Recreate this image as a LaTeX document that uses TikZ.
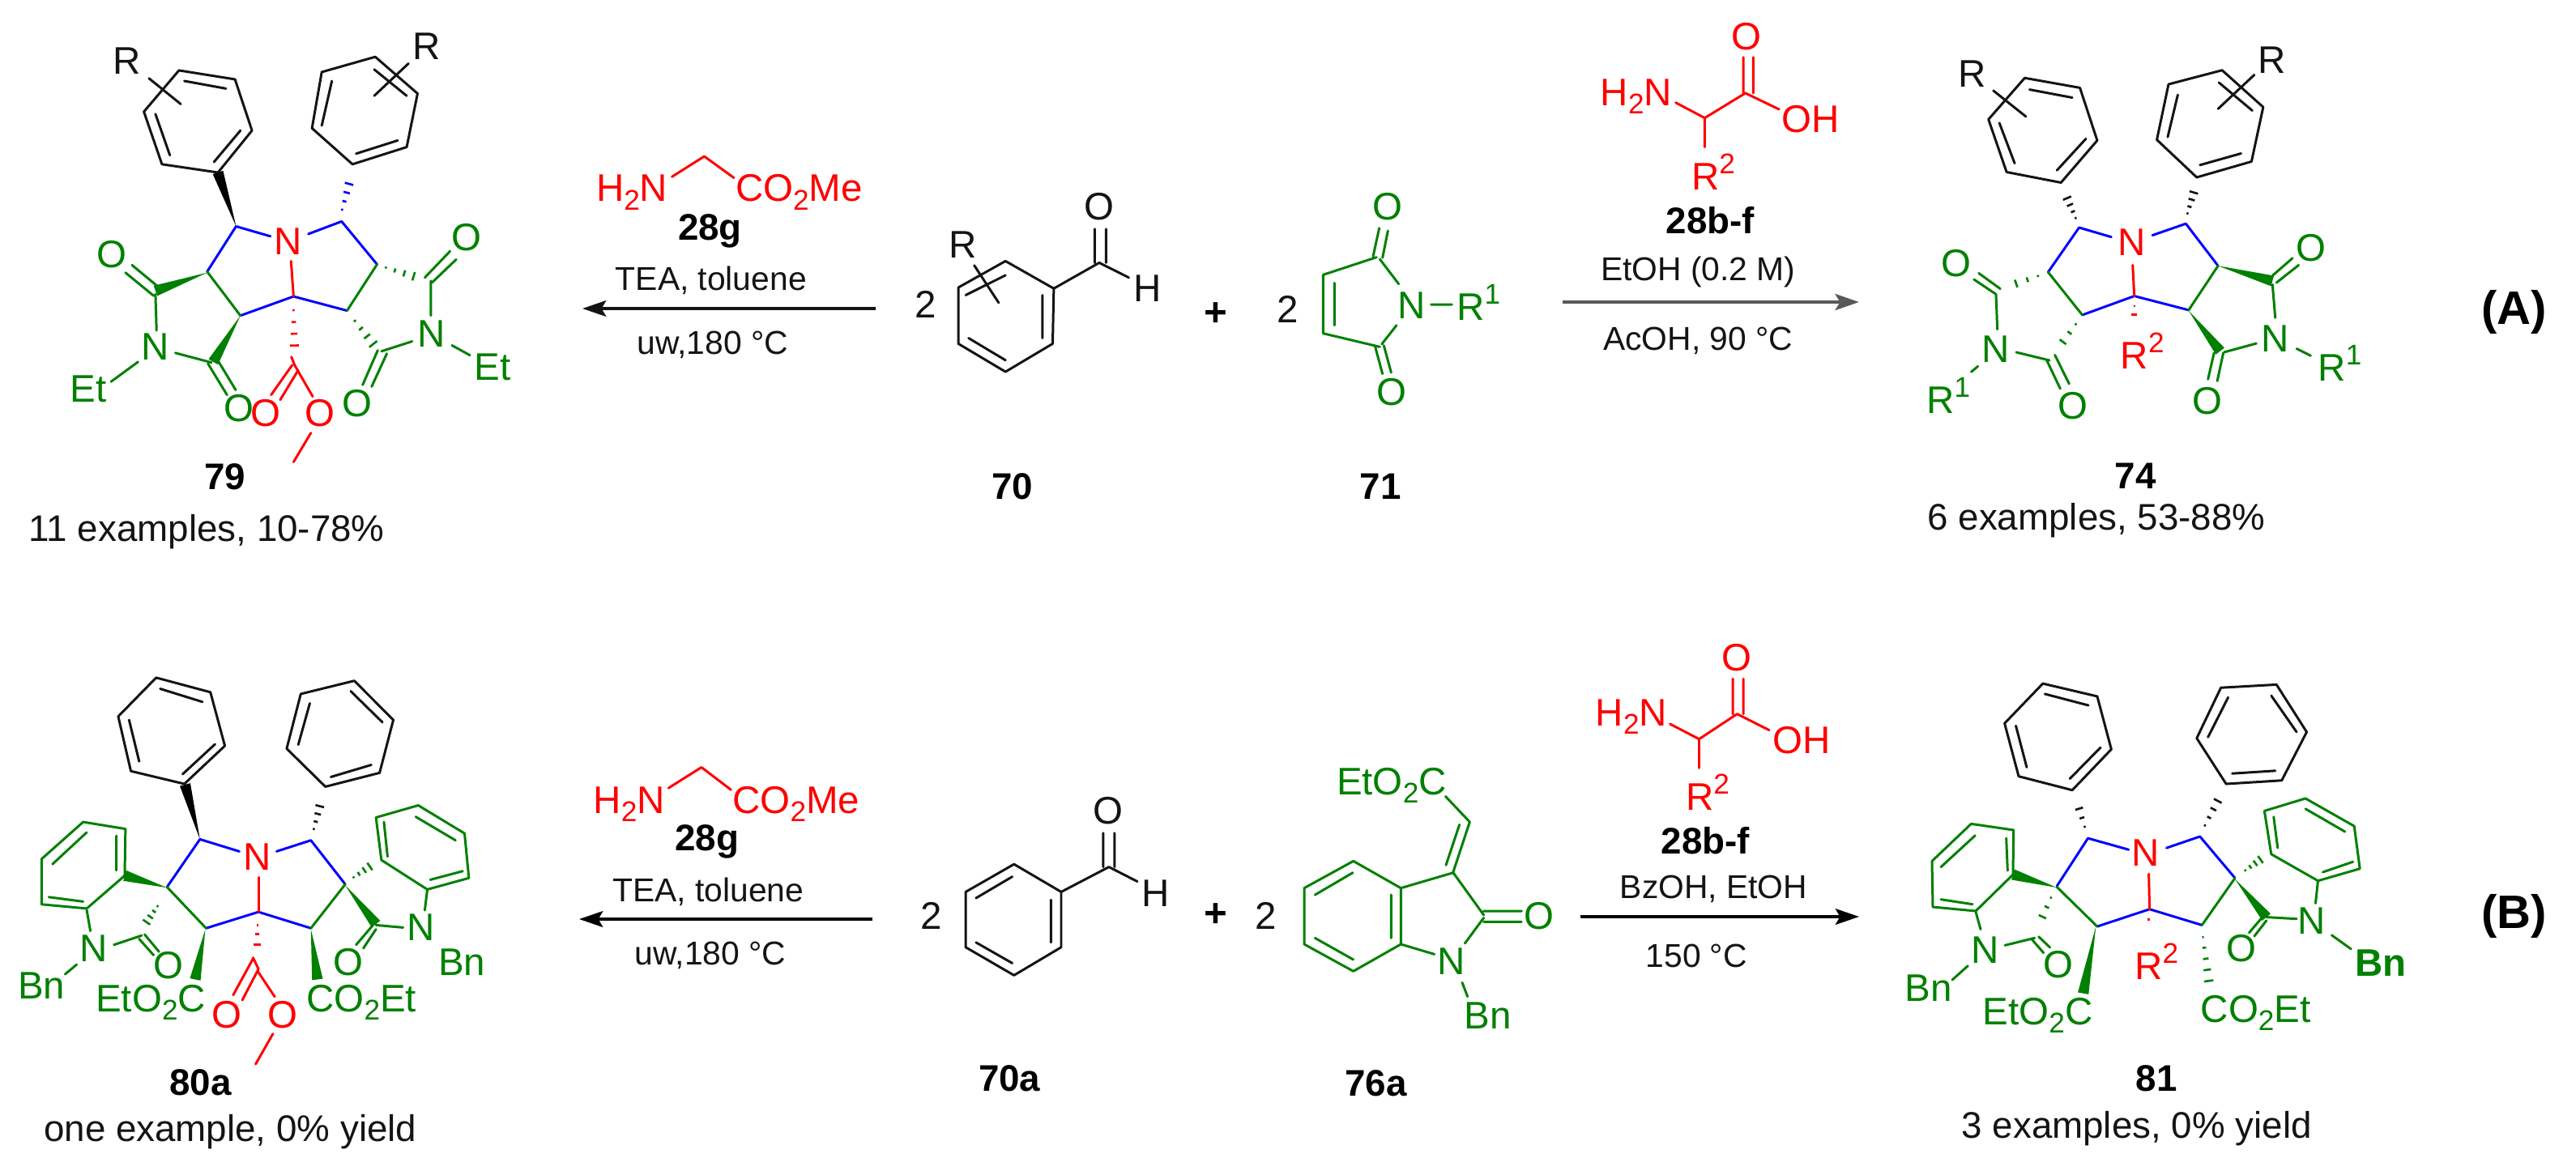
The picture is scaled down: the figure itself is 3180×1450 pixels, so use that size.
\documentclass[tikz,border=0pt]{standalone}
\usepackage{fontspec}
\setmainfont{Liberation Sans}
\usetikzlibrary{calc,arrows.meta}
\definecolor{cg}{RGB}{0,128,0}
\definecolor{cb}{RGB}{0,0,255}
\definecolor{cr}{RGB}{255,0,0}
\definecolor{ck}{RGB}{20,20,20}
\newcounter{nn}
\newcommand\T[3]{\stepcounter{nn}\node[#1] (n\thenn) at (#2) {#3};}
\newcommand\sbb[1]{\raisebox{-3pt}{\fontsize{10pt}{10pt}\selectfont #1}}
\newcommand\spp[1]{\raisebox{5.6pt}{\fontsize{10pt}{10pt}\selectfont #1}}
\newcommand\wdg[3]{\fill[#1] (#2) -- ($(#3)!1.9pt!90:(#2)$) -- ($(#3)!1.9pt!-90:(#2)$) -- cycle;}
\newcommand\hsh[4][0.05,0.28,0.52,0.76,1.0]{\foreach \hv in {#1} {\coordinate (hp) at ($(#3)!\hv!(#4)$);\draw[#2,line width=0.75pt] ($(hp)!0.25pt+\hv*1.7pt!90:(#4)$) -- ($(hp)!0.25pt+\hv*1.7pt!-90:(#4)$);}}
\tikzset{
 zm/.style n args={4}{shift={(#1,#2)},x={0.01cm/#3},y={-0.01cm/#4}},
 bd/.style={line width=0.85pt,line join=round,line cap=round},
 gl/.style={bd,draw=cg}, bl/.style={bd,draw=cb}, rl/.style={bd,draw=cr}, kl/.style={bd,draw=ck},
 tx/.style={inner sep=0pt,outer sep=0pt,font=\fontsize{13.5pt}{16pt}\selectfont},
 ga/.style={tx,text=cg}, ra/.style={tx,text=cr}, ka/.style={tx,text=ck},
 gw/.style={ga,anchor=base west}, rw/.style={ra,anchor=base west}, kw/.style={ka,anchor=base west},
 lb/.style={inner sep=0pt,outer sep=0pt,text=black,text depth=0pt,font=\fontsize{13pt}{16pt}\selectfont\bfseries},
 cp/.style={inner sep=0pt,outer sep=0pt,text=ck,text depth=0pt,font=\fontsize{13pt}{16pt}\selectfont},
 rg/.style={inner sep=0pt,outer sep=0pt,text=ck,text depth=0pt,font=\fontsize{11.6pt}{14pt}\selectfont},
 tg/.style={inner sep=0pt,outer sep=0pt,text=black,text depth=0pt,font=\fontsize{16.5pt}{18pt}\selectfont\bfseries},
 rxn/.style={line width=1.05pt,-{Stealth[length=8.3pt,width=5.6pt,inset=1.6pt]}}
}
\begin{document}
\begin{tikzpicture}[x=0.01cm,y=-0.01cm]
\path[use as bounding box,fill=white] (0,0) rectangle (3180,1450);
% arrows
\coordinate (a1s) at (1081,381); \coordinate (a1e) at (719,381);
\coordinate (a2s) at (1929,373); \coordinate (a2e) at (2295,373);
\coordinate (a3s) at (1077,1135); \coordinate (a3e) at (715,1135);
\coordinate (a4s) at (1951,1132); \coordinate (a4e) at (2295,1132);
\draw[rxn,draw=ck] (a1s) -- (a1e);
\draw[rxn,draw=black!65,line width=1.4pt] (a2s) -- (a2e);
\draw[rxn,draw=black] (a3s) -- (a3e);
\draw[rxn,draw=black] (a4s) -- (a4e);
% ===== 79
\begin{scope}[zm={0}{0}{2.24}{2.45}]
\draw[kl] (495,213)--(650,240)--(697,395)--(603,522)--(448,497)--(398,338)--cycle;
\draw[kl] (510,245)--(625,268) (665,395)--(592,490) (470,470)--(430,345) (412,237)--(500,315);
\T{ka}{350,185}{R}
\draw[kl] (890,218)--(1038,172)--(1155,283)--(1125,445)--(975,497)--(863,388)--cycle;
\draw[kl] (918,245)--(890,380) (1035,210)--(1125,290) (1100,425)--(985,465) (1130,192)--(1035,290);
\T{ka}{1180,140}{R}
\wdg{black}{653,685}{603,522}
\hsh{cb}{945,640}{972,530}
\draw[bl] (748,715)--(653,685)--(573,822) (853,708)--(945,670)--(1043,800) (665,955)--(812,897)--(960,940);
\draw[gl] (573,822)--(665,955) (1043,800)--(960,940);
\draw[rl] (805,790)--(812,897);
\T{ra}{798,730}{N}
\wdg{cg}{573,825}{430,880}
\wdg{cg}{665,955}{590,1095}
\draw[gl] (347,825)--(425,895) (365,802)--(440,870) (430,890)--(433,1000) (485,1068)--(585,1097) (575,1100)--(628,1195) (605,1095)--(652,1180) (382,1095)--(307,1155);
\T{ga}{310,770}{O} \T{ga}{430,1050}{N} \T{ga}{662,1235}{O} \T{ga}{245,1178}{Et}
\hsh[0.06,0.3,0.54,0.78,1.0]{cr}{812,930}{815,1078}
\draw[rl] (808,1105)--(750,1195) (825,1120)--(775,1210) (815,1105)--(865,1200) (860,1310)--(812,1398) (806,1080)--(815,1105);
\T{ra}{735,1250}{O} \T{ra}{885,1250}{O}
\hsh{cg}{1062,808}{1170,845}
\hsh[0.1,0.36,0.62,0.88]{cg}{975,962}{1040,1052}
\draw[gl] (1175,840)--(1245,760) (1195,855)--(1262,785) (1192,850)--(1192,955) (1140,1033)--(1055,1063) (1045,1060)--(1003,1165) (1070,1070)--(1028,1170) (1250,1045)--(1300,1075);
\T{ga}{1290,718}{O} \T{ga}{1193,1010}{N} \T{ga}{988,1220}{O} \T{ga}{1362,1110}{Et}
\T{lb}{622,1443}{79}
\T{cp}{572,1597}{11 examples, 10-78\%}
\end{scope}
% ===== 74
\begin{scope}[zm={2400}{0}{2.01}{2.306}]
\draw[kl] (200,222)--(337,250)--(380,400)--(290,520)--(155,490)--(110,340)--cycle;
\draw[kl] (212,255)--(318,278) (352,395)--(280,485) (175,465)--(137,350) (122,258)--(203,332);
\T{ka}{70,210}{R}
\draw[kl] (557,240)--(690,200)--(792,305)--(763,460)--(627,505)--(528,398)--cycle;
\draw[kl] (580,270)--(555,390) (682,235)--(765,315) (737,437)--(635,470) (770,213)--(680,310);
\T{ka}{813,170}{R}
\hsh{ck}{328,625}{298,545}
\hsh{ck}{603,612}{625,528}
\draw[bl] (415,675)--(335,648)--(258,775) (517,670)--(600,637)--(680,757) (343,897)--(472,843)--(607,883);
\draw[gl] (258,775)--(343,897) (680,757)--(607,883);
\draw[rl] (468,755)--(472,843);
\hsh[0.0,0.45,1.0]{cr}{472,872}{472,925}
\T{ra}{465,690}{N}
\T{rw}{438,1050}{R\spp{2}}
\wdg{cg}{680,757}{815,800}
\wdg{cg}{607,885}{685,1000}
\draw[gl] (815,785)--(865,735) (825,805)--(880,755) (815,810)--(822,905) (775,978)--(695,1003) (670,1005)--(655,1080) (693,1005)--(678,1085) (875,993)--(910,1013);
\T{ga}{910,705}{O} \T{ga}{822,965}{N} \T{ga}{653,1143}{O}
\T{gw}{928,1085}{R\spp{1}}
\T{lb}{475,1355}{74}
\T{cp}{378,1472}{6 examples, 53-88\%}
\T{tg}{1415,875}{(A)}
\end{scope}
\begin{scope}[zm={2340}{300}{3}{3}]
\draw[gl] (290,135)--(372,190) (308,112)--(388,170) (372,190)--(377,320) (447,405)--(570,435) (560,435)--(610,540) (590,415)--(643,522) (305,457)--(280,478);
\T{ga}{225,75}{O} \T{ga}{372,392}{N} \T{ga}{657,603}{O}
\T{gw}{115,630}{R\spp{1}}
\hsh[0.06,0.36,0.68,1.0]{cg}{535,120}{405,165}
\hsh[0.06,0.36,0.68,1.0]{cg}{672,295}{595,400}
\end{scope}
% ===== 80a
\begin{scope}[zm={0}{780}{2.24}{2.34}]
\draw[kl] (432,133)--(582,175)--(622,330)--(510,440)--(362,403)--(327,245)--cycle;
\draw[kl] (443,165)--(560,203) (595,325)--(505,412) (385,375)--(357,255);
\draw[kl] (832,180)--(980,142)--(1088,255)--(1050,408)--(900,448)--(793,338)--cycle;
\draw[kl] (857,207)--(825,327) (970,172)--(1058,262) (1027,385)--(915,420);
\wdg{black}{553,600}{512,442}
\hsh{ck}{867,575}{890,482}
\draw[bl] (662,635)--(553,600)--(462,738) (765,635)--(860,603)--(955,730) (570,857)--(715,810)--(860,857);
\draw[gl] (462,738)--(570,857) (955,730)--(860,857);
\draw[rl] (715,710)--(715,810);
\T{ra}{712,650}{N}
\hsh[0.04,0.3,0.62,1.0]{cr}{712,845}{712,940}
\draw[gl] (230,550)--(347,570)--(345,705)--(240,800)--(115,788)--(115,657)--cycle;
\draw[gl] (322,590)--(322,690) (240,580)--(145,672) (230,780)--(135,767) (240,805)--(250,865) (315,905)--(392,878) (400,875)--(440,925) (385,888)--(425,935) (212,962)--(180,990);
\wdg{cg}{462,740}{345,705}
\hsh{cg}{438,790}{395,855}
\T{ga}{258,915}{N} \T{ga}{465,965}{O} \T{ga}{115,1022}{Bn}
\wdg{cg}{568,860}{540,1005}
\T{gw}{265,1098}{EtO\sbb{2}C}
\draw[rl] (700,945)--(645,1050) (715,975)--(670,1065) (712,980)--(760,1055) (755,1162)--(707,1250) (700,942)--(715,975);
\T{ra}{628,1108}{O} \T{ra}{782,1108}{O}
\wdg{cg}{860,860}{878,1005}
\T{gw}{848,1098}{CO\sbb{2}Et}
\hsh{cg}{975,712}{1038,668}
\draw[gl] (1040,537)--(1157,502)--(1285,583)--(1297,712)--(1182,745)--(1055,660)--cycle;
\draw[gl] (1062,550)--(1072,650) (1150,535)--(1260,603) (1280,692)--(1190,717) (1182,745)--(1175,805) (1040,848)--(1115,855) (1030,850)--(985,905) (1040,860)--(1005,915);
\wdg{cg}{955,733}{1040,845}
\T{ga}{1165,855}{N} \T{ga}{963,955}{O} \T{ga}{1278,955}{Bn}
\T{lb}{555,1303}{80a}
\T{cp}{637,1435}{one example, 0\% yield}
\end{scope}
% ===== 81
\begin{scope}[zm={2400}{780}{2.01}{2.34}]
\draw[kl] (245,150)--(380,187)--(415,340)--(318,458)--(185,418)--(150,265)--cycle;
\draw[kl] (250,180)--(358,213) (388,335)--(312,425) (205,392)--(178,272);
\draw[kl] (687,162)--(825,153)--(900,290)--(838,430)--(700,440)--(627,308)--cycle;
\draw[kl] (705,190)--(655,305) (812,185)--(875,290) (822,402)--(715,410);
\hsh[0.05,0.36,0.68,1.0]{ck}{350,568}{328,485}
\hsh{ck}{645,565}{690,465}
\draw[bl] (458,630)--(357,597)--(280,735) (552,625)--(635,592)--(722,712) (380,852)--(510,802)--(640,848);
\draw[gl] (280,738)--(380,852) (722,712)--(640,848);
\draw[rl] (508,700)--(510,802);
\T{ra}{500,640}{N}
\T{rw}{473,1005}{R\spp{2}}
\hsh[0.05,1.0]{cr}{508,830}{508,877}
\hsh{cg}{745,692}{798,648}
\draw[gl] (795,518)--(897,482)--(1018,562)--(1032,685)--(928,720)--(812,643)--cycle;
\draw[gl] (818,535)--(828,625) (897,512)--(995,578) (1015,665)--(940,695) (928,720)--(922,785) (800,825)--(875,830) (790,825)--(757,870) (800,835)--(770,880);
\wdg{cg}{722,715}{800,825}
\T{ga}{912,835}{N} \T{ga}{737,915}{O}
\draw[gl] (962,877)--(1010,917);
\T{gw}{1020,995}{\bfseries Bn}
\hsh[0.03,0.22,0.42,0.62,0.82,1.0]{cg}{642,878}{660,1038}
\T{gw}{637,1128}{CO\sbb{2}Et}
\T{lb}{527,1290}{81}
\T{cp}{478,1425}{3 examples, 0\% yield}
\T{tg}{1415,808}{(B)}
\end{scope}
\begin{scope}[zm={2300}{1000}{3}{3}]
\draw[gl] (400,52)--(557,75)--(555,240)--(417,375)--(258,360)--(255,190)--cycle;
\draw[gl] (530,105)--(535,225) (415,95)--(288,212) (405,350)--(288,332) (417,378)--(435,443) (525,502)--(635,475) (650,470)--(692,510) (625,480)--(668,530) (388,578)--(330,630);
\wdg{cg}{717,288}{555,240}
\hsh[0.05,0.36,0.68,1.0]{cg}{698,320}{648,432}
\T{ga}{452,520}{N} \T{ga}{722,572}{O} \T{ga}{242,660}{Bn}
\wdg{cg}{862,432}{815,680}
\T{gw}{443,795}{EtO\sbb{2}C}
\end{scope}
% ===== 70 and reagents left A
\begin{scope}[zm={680}{40}{1.4255}{2.45}]
\draw[kl] (800,692)--(885,775)--(883,942)--(800,1027)--(717,942)--(717,772)--cycle;
\draw[kl] (865,795)--(865,925) (800,992)--(735,925) (730,795)--(800,735) (745,705)--(788,818) (885,775)--(965,697)--(1017,742) (957,697)--(957,595) (977,697)--(977,595);
\T{ka}{725,643}{R} \T{ka}{965,527}{O} \T{ka}{1050,775}{H} \T{ka}{660,822}{2} \T{ka}{1297,837}{2}
\T{lb}{1170,852}{\fontsize{14pt}{16pt}\selectfont +}
\T{lb}{812,1373}{70} \T{lb}{1460,1373}{71}
\draw[rl] (213,437)--(270,375)--(322,440);
\T{rw}{80,512}{H\sbb{2}N} \T{rw}{325,512}{CO\sbb{2}Me}
\T{lb}{280,590}{28g} \T{rg}{282,745}{TEA, toluene} \T{rg}{285,940}{uw,180 °C}
\end{scope}
% ===== 71
\begin{scope}[zm={1540}{90}{3}{3}]
\draw[gl] (478,683)--(280,748)--(280,965)--(490,1015) (322,778)--(322,935) (490,690)--(560,782) (497,1005)--(552,935) (465,680)--(488,575) (500,685)--(520,585) (473,1015)--(500,1115) (505,1010)--(532,1110) (680,858)--(757,858);
\T{ga}{518,495}{O} \T{ga}{608,860}{N} \T{ga}{535,1182}{O}
\T{gw}{775,917}{R\spp{1}}
\end{scope}
% ===== 28b-f (A)
\begin{scope}[zm={1780}{0}{2.45}{3}]
\draw[rl] (707,380)--(795,437)--(918,345)--(1020,405) (912,345)--(912,212) (942,345)--(942,212) (795,437)--(795,545);
\T{rw}{480,390}{H\sbb{2}N} \T{ra}{922,135}{O} \T{rw}{1028,490}{OH} \T{rw}{755,703}{R\spp{2}}
\T{lb}{812,815}{28b-f} \T{rg}{775,995}{EtOH (0.2 M)} \T{rg}{775,1255}{AcOH, 90 °C}
\end{scope}
% ===== 70a and reagents left B
\begin{scope}[zm={680}{780}{1.4255}{2.34}]
\draw[kl] (815,672)--(898,752)--(898,912)--(815,993)--(730,912)--(730,752)--cycle;
\draw[kl] (880,775)--(880,898) (812,958)--(748,898) (748,770)--(812,708) (898,752)--(982,680)--(1032,722) (972,680)--(972,582) (992,680)--(992,582);
\T{ka}{980,518}{O} \T{ka}{1064,757}{H} \T{ka}{670,822}{2} \T{ka}{1258,822}{2}
\T{lb}{1170,820}{\fontsize{14pt}{16pt}\selectfont +}
\T{lb}{807,1290}{70a} \T{lb}{1452,1305}{76a}
\draw[rl] (207,452)--(265,392)--(317,457);
\T{rw}{75,525}{H\sbb{2}N} \T{rw}{320,525}{CO\sbb{2}Me}
\T{lb}{275,595}{28g} \T{rg}{277,745}{TEA, toluene} \T{rg}{281,930}{uw,180 °C}
\end{scope}
% ===== 76a
\begin{scope}[zm={1480}{780}{3}{3}]
\draw[gl] (572,850)--(748,950)--(748,1158)--(572,1258)--(390,1158)--(390,950)--cycle;
\draw[gl] (712,975)--(712,1135) (570,893)--(430,975) (430,1135)--(572,1215) (748,950)--(942,893)--(1055,1050) (1055,1060)--(985,1155) (748,1158)--(872,1195) (1055,1035)--(1195,1035) (1055,1075)--(1195,1075) (942,890)--(1003,705)--(913,610) (915,865)--(965,715) (975,1300)--(995,1352);
\T{ga}{935,1220}{N} \T{ga}{1260,1052}{O}
\T{gw}{510,603}{EtO\sbb{2}C} \T{gw}{982,1472}{Bn}
\end{scope}
% ===== 28b-f (B)
\begin{scope}[zm={1780}{760}{2.45}{3}]
\draw[rl] (690,402)--(778,458)--(893,365)--(990,425) (880,365)--(880,235) (912,365)--(912,235) (778,458)--(778,565);
\T{rw}{465,408}{H\sbb{2}N} \T{ra}{892,157}{O} \T{rw}{1000,510}{OH} \T{rw}{738,722}{R\spp{2}}
\T{lb}{797,835}{28b-f} \T{rg}{822,1005}{BzOH, EtOH} \T{rg}{770,1262}{150 °C}
\end{scope}
\end{tikzpicture}
\end{document}
